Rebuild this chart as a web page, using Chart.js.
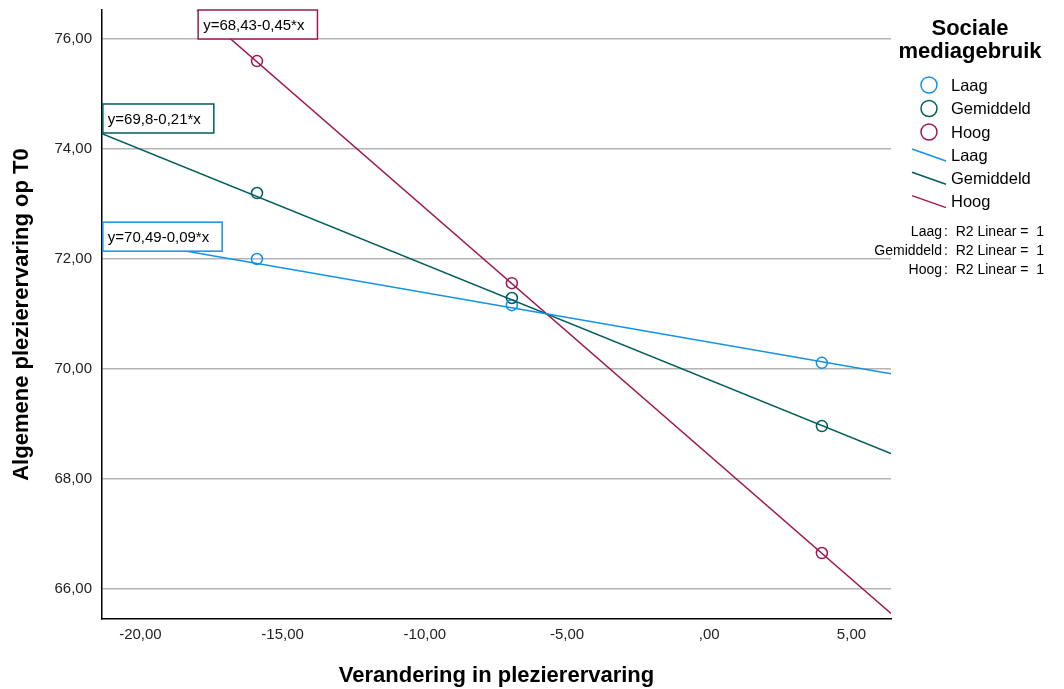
<!DOCTYPE html>
<html>
<head>
<meta charset="utf-8">
<script src="https://cdn.jsdelivr.net/npm/chart.js@4/dist/chart.umd.min.js"></script>
<style>
  body { margin: 0; background: #fff; }
  #chart { display: block; }
</style>
</head>
<body>
<canvas id="chart" width="1064" height="689"></canvas>
<script>
// waarden
const groups = ['Laag', 'Gemiddeld', 'Hoog'];
const colors = ['#1192e8', '#005d5d', '#9f1853'];
const xVals = [-15.9, -6.94, 3.96];
const laagVals = [72.0, 71.16, 70.11];
const gemVals = [73.2, 71.29, 68.96];
const hoogVals = [75.6, 71.56, 66.65];

// eindpunten van de fitlijnen
const fitX = [-21.35, 6.39];
const laagFit = [72.41, 69.91];
const gemFit = [74.28, 68.46];
const hoogFit = [78.04, 65.55];

const equations = ['y=70,49-0,09*x', 'y=69,8-0,21*x', 'y=68,43-0,45*x'];
const r2Values = ['1', '1', '1'];

const xTicks = [-20, -15, -10, -5, 0, 5];
const xTickLabels = ['-20,00', '-15,00', '-10,00', '-5,00', ',00', '5,00'];
const yTicks = [66, 68, 70, 72, 74, 76];
const yTickLabels = ['66,00', '68,00', '70,00', '72,00', '74,00', '76,00'];

const FONT = '"Liberation Sans", Arial, sans-serif';

const pointSets = [laagVals, gemVals, hoogVals];
const fitSets = [laagFit, gemFit, hoogFit];

const datasets = [];
fitSets.forEach((vals, i) => {
    datasets.push({
        label: groups[i] + ' fit',
        data: fitX.map((x, j) => ({ x: x, y: vals[j] })),
        showLine: true,
        borderColor: colors[i],
        borderWidth: 1.5,
        pointRadius: 0,
        fill: false
    });
});
pointSets.forEach((vals, i) => {
    datasets.push({
        label: groups[i],
        data: xVals.map((x, j) => ({ x: x, y: vals[j] })),
        showLine: false,
        pointStyle: 'circle',
        pointRadius: 5.5,
        pointBorderWidth: 1.5,
        pointBorderColor: colors[i],
        pointBackgroundColor: 'rgba(0,0,0,0)'
    });
});

// ankers (data-eenheden) voor de vergelijkingsvakjes
const eqAnchors = [[-21.32, 72.67], [-21.32, 74.82], [-17.97, 76.53]];

const extras = {
    id: 'extras',
    afterDatasetsDraw(chart) {
        const ctx = chart.ctx;
        const xs = chart.scales.x, ys = chart.scales.y;
        ctx.save();
        ctx.font = '15px ' + FONT;
        ctx.textBaseline = 'middle';
        ctx.textAlign = 'left';
        equations.forEach((eq, i) => {
            const left = xs.getPixelForValue(eqAnchors[i][0]);
            const top = ys.getPixelForValue(eqAnchors[i][1]);
            const w = ctx.measureText(eq).width + 18;
            const h = 29;
            ctx.fillStyle = '#fff';
            ctx.fillRect(left, top, w, h);
            ctx.strokeStyle = colors[i];
            ctx.lineWidth = 1.5;
            ctx.strokeRect(left, top, w, h);
            ctx.fillStyle = '#000';
            ctx.fillText(eq, left + 5, top + h / 2 + 1);
        });
        ctx.restore();
    },
    afterDraw(chart) {
        const ctx = chart.ctx;
        const ca = chart.chartArea;
        ctx.save();
        ctx.fillStyle = '#000';
        ctx.textBaseline = 'middle';

        // astitels
        ctx.font = 'bold 22px ' + FONT;
        ctx.textAlign = 'center';
        ctx.fillText('Verandering in plezierervaring', (ca.left + ca.right) / 2, 676);
        ctx.save();
        ctx.translate(22, (ca.top + ca.bottom) / 2);
        ctx.rotate(-Math.PI / 2);
        ctx.fillText('Algemene plezierervaring op T0', 0, 0);
        ctx.restore();

        // legenda
        const lx = 970;
        ctx.font = 'bold 22px ' + FONT;
        ctx.fillText('Sociale', lx, 29);
        ctx.fillText('mediagebruik', lx, 52);

        ctx.font = '16.5px ' + FONT;
        ctx.textAlign = 'left';
        groups.forEach((g, i) => {
            const y = 85 + i * 23.5;
            ctx.beginPath();
            ctx.arc(929, y, 8, 0, Math.PI * 2);
            ctx.strokeStyle = colors[i];
            ctx.lineWidth = 1.5;
            ctx.stroke();
            ctx.fillStyle = '#000';
            ctx.fillText(g, 951, y + 1);
        });
        groups.forEach((g, i) => {
            const y = 155 + i * 23.3;
            ctx.beginPath();
            ctx.moveTo(912, y - 6);
            ctx.lineTo(946, y + 6);
            ctx.strokeStyle = colors[i];
            ctx.lineWidth = 1.5;
            ctx.stroke();
            ctx.fillStyle = '#000';
            ctx.fillText(g, 951, y + 1);
        });

        ctx.font = '14px ' + FONT;
        groups.forEach((g, i) => {
            const y = 232 + i * 19;
            ctx.textAlign = 'right';
            ctx.fillText(g, 942, y);
            ctx.textAlign = 'left';
            ctx.fillText(':  R2 Linear =  ' + r2Values[i], 944, y);
        });
        ctx.restore();
    }
};

new Chart(document.getElementById('chart'), {
    type: 'scatter',
    data: { datasets: datasets },
    options: {
        responsive: false,
        animation: false,
        layout: { padding: { left: 0, right: 173, top: 10, bottom: 0 } },
        plugins: {
            legend: { display: false },
            tooltip: { enabled: false }
        },
        scales: {
            x: {
                type: 'linear',
                min: fitX[0],
                max: fitX[1],
                afterBuildTicks: s => { s.ticks = xTicks.map(v => ({ value: v })); },
                afterFit: s => { s.height = 70; s.paddingLeft = 0; s.paddingRight = 0; },
                ticks: {
                    callback: v => xTickLabels[xTicks.indexOf(v)],
                    font: { family: FONT, size: 15 },
                    color: '#222',
                    padding: 7,
                    maxRotation: 0
                },
                grid: { display: false, drawTicks: false },
                border: { display: true, color: '#000', width: 1.5 }
            },
            y: {
                type: 'linear',
                min: 65.45,
                max: 76.53,
                afterBuildTicks: s => { s.ticks = yTicks.map(v => ({ value: v })); },
                afterFit: s => { s.width = 102; s.paddingTop = 0; s.paddingBottom = 0; },
                ticks: {
                    callback: v => yTickLabels[yTicks.indexOf(v)],
                    font: { family: FONT, size: 15 },
                    color: '#222',
                    padding: 10
                },
                grid: { color: '#b4b4b4', lineWidth: 1.5, drawTicks: false },
                border: { display: true, color: '#000', width: 1.5 }
            }
        }
    },
    plugins: [extras]
});
</script>
</body>
</html>
